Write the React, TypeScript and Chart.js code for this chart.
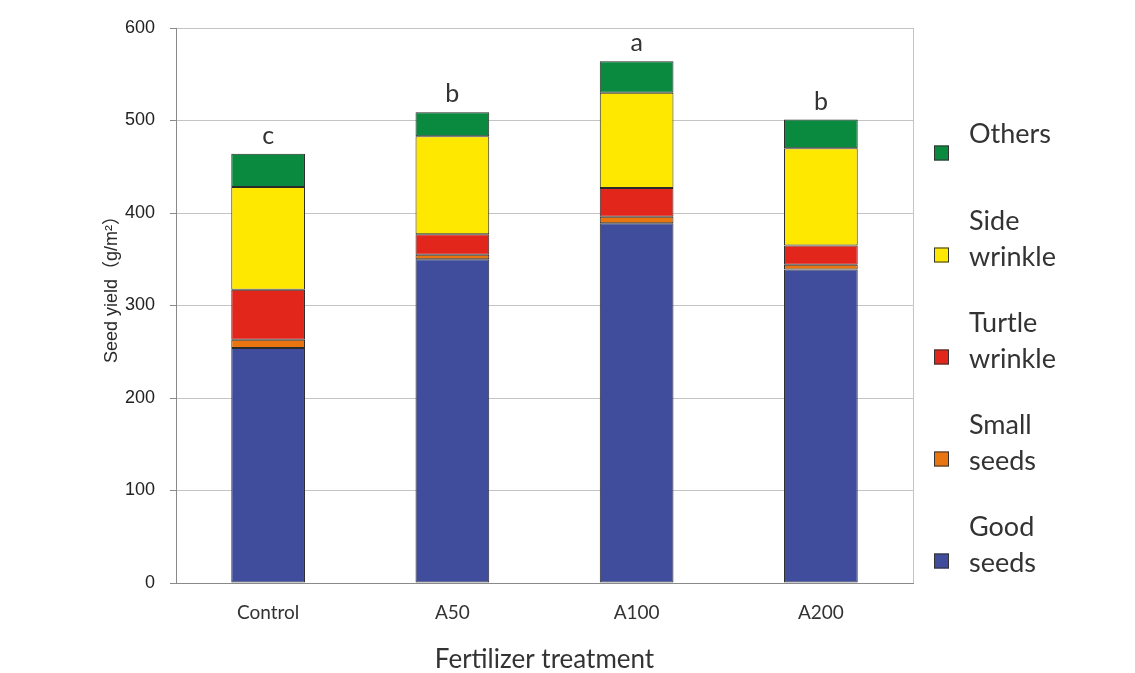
import { useEffect, useRef } from 'react';
import { Chart, registerables } from 'chart.js';

Chart.register(...registerables);

const categories = ['Control', 'A50', 'A100', 'A200'];
const goodSeeds = [254, 350, 389, 339];
const smallSeeds = [9, 5, 7, 5];
const turtleWrinkle = [54, 22, 31, 21];
const sideWrinkle = [111, 106, 103, 105];
const others = [36, 26, 34, 31];
const significance = ['c', 'b', 'a', 'b'];
const yTickValues = [0, 100, 200, 300, 400, 500, 600];

const seriesLabels = [['Good', 'seeds'], ['Small', 'seeds'], ['Turtle', 'wrinkle'], ['Side', 'wrinkle'], ['Others']];
const seriesColors = ['#3f4d9c', '#e8750f', '#e3261b', '#ffe800', '#0a8a3e'];
const seriesValues = [goodSeeds, smallSeeds, turtleWrinkle, sideWrinkle, others];

const yTitle = 'Seed yield（g/m²）';
const xTitle = 'Fertilizer treatment';

const extrasPlugin = {
  id: 'extras',
  afterDraw(chart: any) {
    const { ctx, chartArea } = chart;
    const { right, top, bottom } = chartArea;
    ctx.save();
    // right frame line
    ctx.strokeStyle = '#c4c4c4';
    ctx.lineWidth = 1;
    ctx.beginPath();
    ctx.moveTo(Math.round(right) + 0.5, top);
    ctx.lineTo(Math.round(right) + 0.5, bottom);
    ctx.stroke();

    // y title
    ctx.save();
    ctx.translate(112, 285);
    ctx.rotate(-Math.PI / 2);
    ctx.font = '18px "Liberation Sans", "Noto Sans CJK JP", sans-serif';
    ctx.fillStyle = '#2a2a2a';
    ctx.textAlign = 'center';
    ctx.textBaseline = 'middle';
    ctx.fillText(yTitle, 0, 0);
    ctx.restore();

    // significance letters
    const lastMeta = chart.getDatasetMeta(chart.data.datasets.length - 1);
    ctx.font = '25px Lato, sans-serif';
    ctx.fillStyle = '#333';
    ctx.textAlign = 'center';
    ctx.textBaseline = 'alphabetic';
    lastMeta.data.forEach((el: any, i: number) => {
      ctx.fillText(significance[i], el.x, el.y - 10);
    });

    // legend (reversed order, top = Others)
    const n = seriesLabels.length;
    ctx.font = '27px Lato, sans-serif';
    ctx.textAlign = 'left';
    ctx.textBaseline = 'middle';
    for (let k = 0; k < n; k++) {
      const idx = n - 1 - k;
      const my = 153 + k * 102;
      ctx.fillStyle = seriesColors[idx];
      ctx.fillRect(934, my - 7.5, 15, 15);
      ctx.strokeStyle = '#333';
      ctx.lineWidth = 1;
      ctx.strokeRect(934.5, my - 7, 14, 14);
      ctx.fillStyle = '#333';
      const lines = seriesLabels[idx];
      if (lines.length === 1) {
        ctx.fillText(lines[0], 969, my - 19);
      } else {
        ctx.fillText(lines[0], 969, my - 34);
        ctx.fillText(lines[1], 969, my + 2);
      }
    }
    ctx.restore();
  },
};

export default function App() {
  const ref = useRef<HTMLCanvasElement | null>(null);
  useEffect(() => {
    document.body.style.margin = '0';
    const canvas = ref.current;
    if (!canvas) return;
    const chart = new Chart(canvas, {
      type: 'bar',
      data: {
        labels: categories,
        datasets: seriesValues.map((vals, i) => ({
          label: seriesLabels[i].join(' '),
          data: vals,
          backgroundColor: seriesColors[i],
          borderColor: '#2b2b2b',
          borderWidth: 1,
          borderSkipped: false,
          barPercentage: 0.4,
          categoryPercentage: 1,
        })),
      },
      options: {
        responsive: false,
        animation: false,
        layout: { padding: { left: 0, top: 28, right: 222, bottom: 0 } },
        plugins: {
          legend: { display: false },
          tooltip: { enabled: false },
        },
        scales: {
          x: {
            stacked: true,
            grid: { display: false },
            border: { color: '#8a8a8a' },
            ticks: {
              font: { family: 'Lato', size: 19 },
              color: '#333',
              padding: 10,
            },
            title: {
              display: true,
              text: xTitle,
              font: { family: 'Lato', size: 26, lineHeight: 1 },
              color: '#333',
              padding: { top: 0, bottom: 0 },
            },
            afterFit: (s: any) => {
              s.height = 90;
            },
          },
          y: {
            stacked: true,
            min: 0,
            max: 600,
            afterBuildTicks: (s: any) => {
              s.ticks = yTickValues.map((v) => ({ value: v }));
            },
            grid: { color: '#c4c4c4', tickLength: 6, tickColor: '#8a8a8a' },
            border: { color: '#8a8a8a' },
            ticks: {
              font: { family: '"Liberation Sans", Arial', size: 18 },
              color: '#222',
              padding: 15,
            },
            afterFit: (s: any) => {
              s.width = 176;
            },
          },
        },
      },
      plugins: [extrasPlugin],
    });
    return () => chart.destroy();
  }, []);
  return (
    <div style={{ width: 1135, height: 673 }}>
      <canvas ref={ref} width={1135} height={673} />
    </div>
  );
}
